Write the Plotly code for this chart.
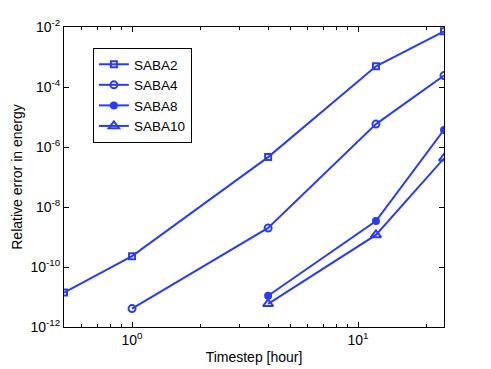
import plotly.graph_objects as go

# timestep in hours
timestep = [0.5, 1, 4, 12, 24]
timestep_hi = [4, 12, 24]

saba2 = [1.4e-11, 2.3e-10, 4.6e-7, 4.9e-4, 7.2e-3]
saba4 = [4.1e-12, 2.0e-9, 5.8e-6, 2.4e-4]
saba8 = [1.1e-11, 3.4e-9, 3.7e-6]
saba10 = [5.9e-12, 1.17e-9, 4.2e-7]

ytick_vals = [1e-12, 1e-10, 1e-8, 1e-6, 1e-4, 1e-2]
ytick_text = ['10<sup>-12</sup>', '10<sup>-10</sup>', '10<sup>-8</sup>',
              '10<sup>-6</sup>', '10<sup>-4</sup>', '10<sup>-2</sup>']
xtick_vals = [1, 10]
xtick_text = ['10<sup>0</sup>', '10<sup>1</sup>']

blue = '#2a3cf2'
fnt = dict(family='Liberation Sans, Arial, sans-serif', size=14, color='black')
leg_fnt = dict(family='Liberation Sans, Arial, sans-serif', size=13.5, color='black')

fig = go.Figure()
series = [
    ('SABA2', timestep, saba2, 'square-open', 6),
    ('SABA4', timestep[1:], saba4, 'circle-open', 7),
    ('SABA8', timestep_hi, saba8, 'circle', 6),
    ('SABA10', timestep_hi, saba10, 'triangle-up-open', 9),
]
for name, xs, ys, sym, sz in series:
    fig.add_trace(go.Scatter(x=xs, y=ys, name=name, mode='lines+markers',
                             line=dict(color=blue, width=2),
                             marker=dict(symbol=sym, size=sz, color=blue,
                                         line=dict(color=blue, width=2))))

fig.update_xaxes(type='log', range=[-0.30103, 1.38021], showgrid=False, zeroline=False,
                 showline=True, linecolor='black', linewidth=1, mirror='ticks',
                 ticks='inside', ticklen=5, tickcolor='black', automargin=False,
                 tickvals=xtick_vals, ticktext=xtick_text,
                 minor=dict(ticks='inside', ticklen=3, tickcolor='black',
                            tickvals=[0.5, 0.6, 0.7, 0.8, 0.9, 2, 3, 4, 5, 6, 7, 8, 9, 20]),
                 title=dict(text='Timestep [hour]', font=fnt, standoff=5),
                 tickfont=fnt)
fig.update_yaxes(type='log', range=[-12, -2], showgrid=False, zeroline=False,
                 showline=True, linecolor='black', linewidth=1, mirror='ticks',
                 ticks='inside', ticklen=5, tickcolor='black', automargin=False,
                 tickvals=ytick_vals, ticktext=ytick_text,
                 title=dict(text='Relative error in energy', font=fnt, standoff=4),
                 tickfont=fnt)

# page body has an 8px margin, so the figure is 8px smaller each way
fig.update_layout(width=483, height=361, margin=dict(l=56, r=47, t=19, b=42),
                  plot_bgcolor='white', paper_bgcolor='white', font=fnt,
                  legend=dict(x=0.076, y=0.93, xanchor='left', yanchor='top',
                              bordercolor='black', borderwidth=1, bgcolor='white',
                              font=leg_fnt, tracegroupgap=0, itemwidth=30))

fig.write_html('out.html')
